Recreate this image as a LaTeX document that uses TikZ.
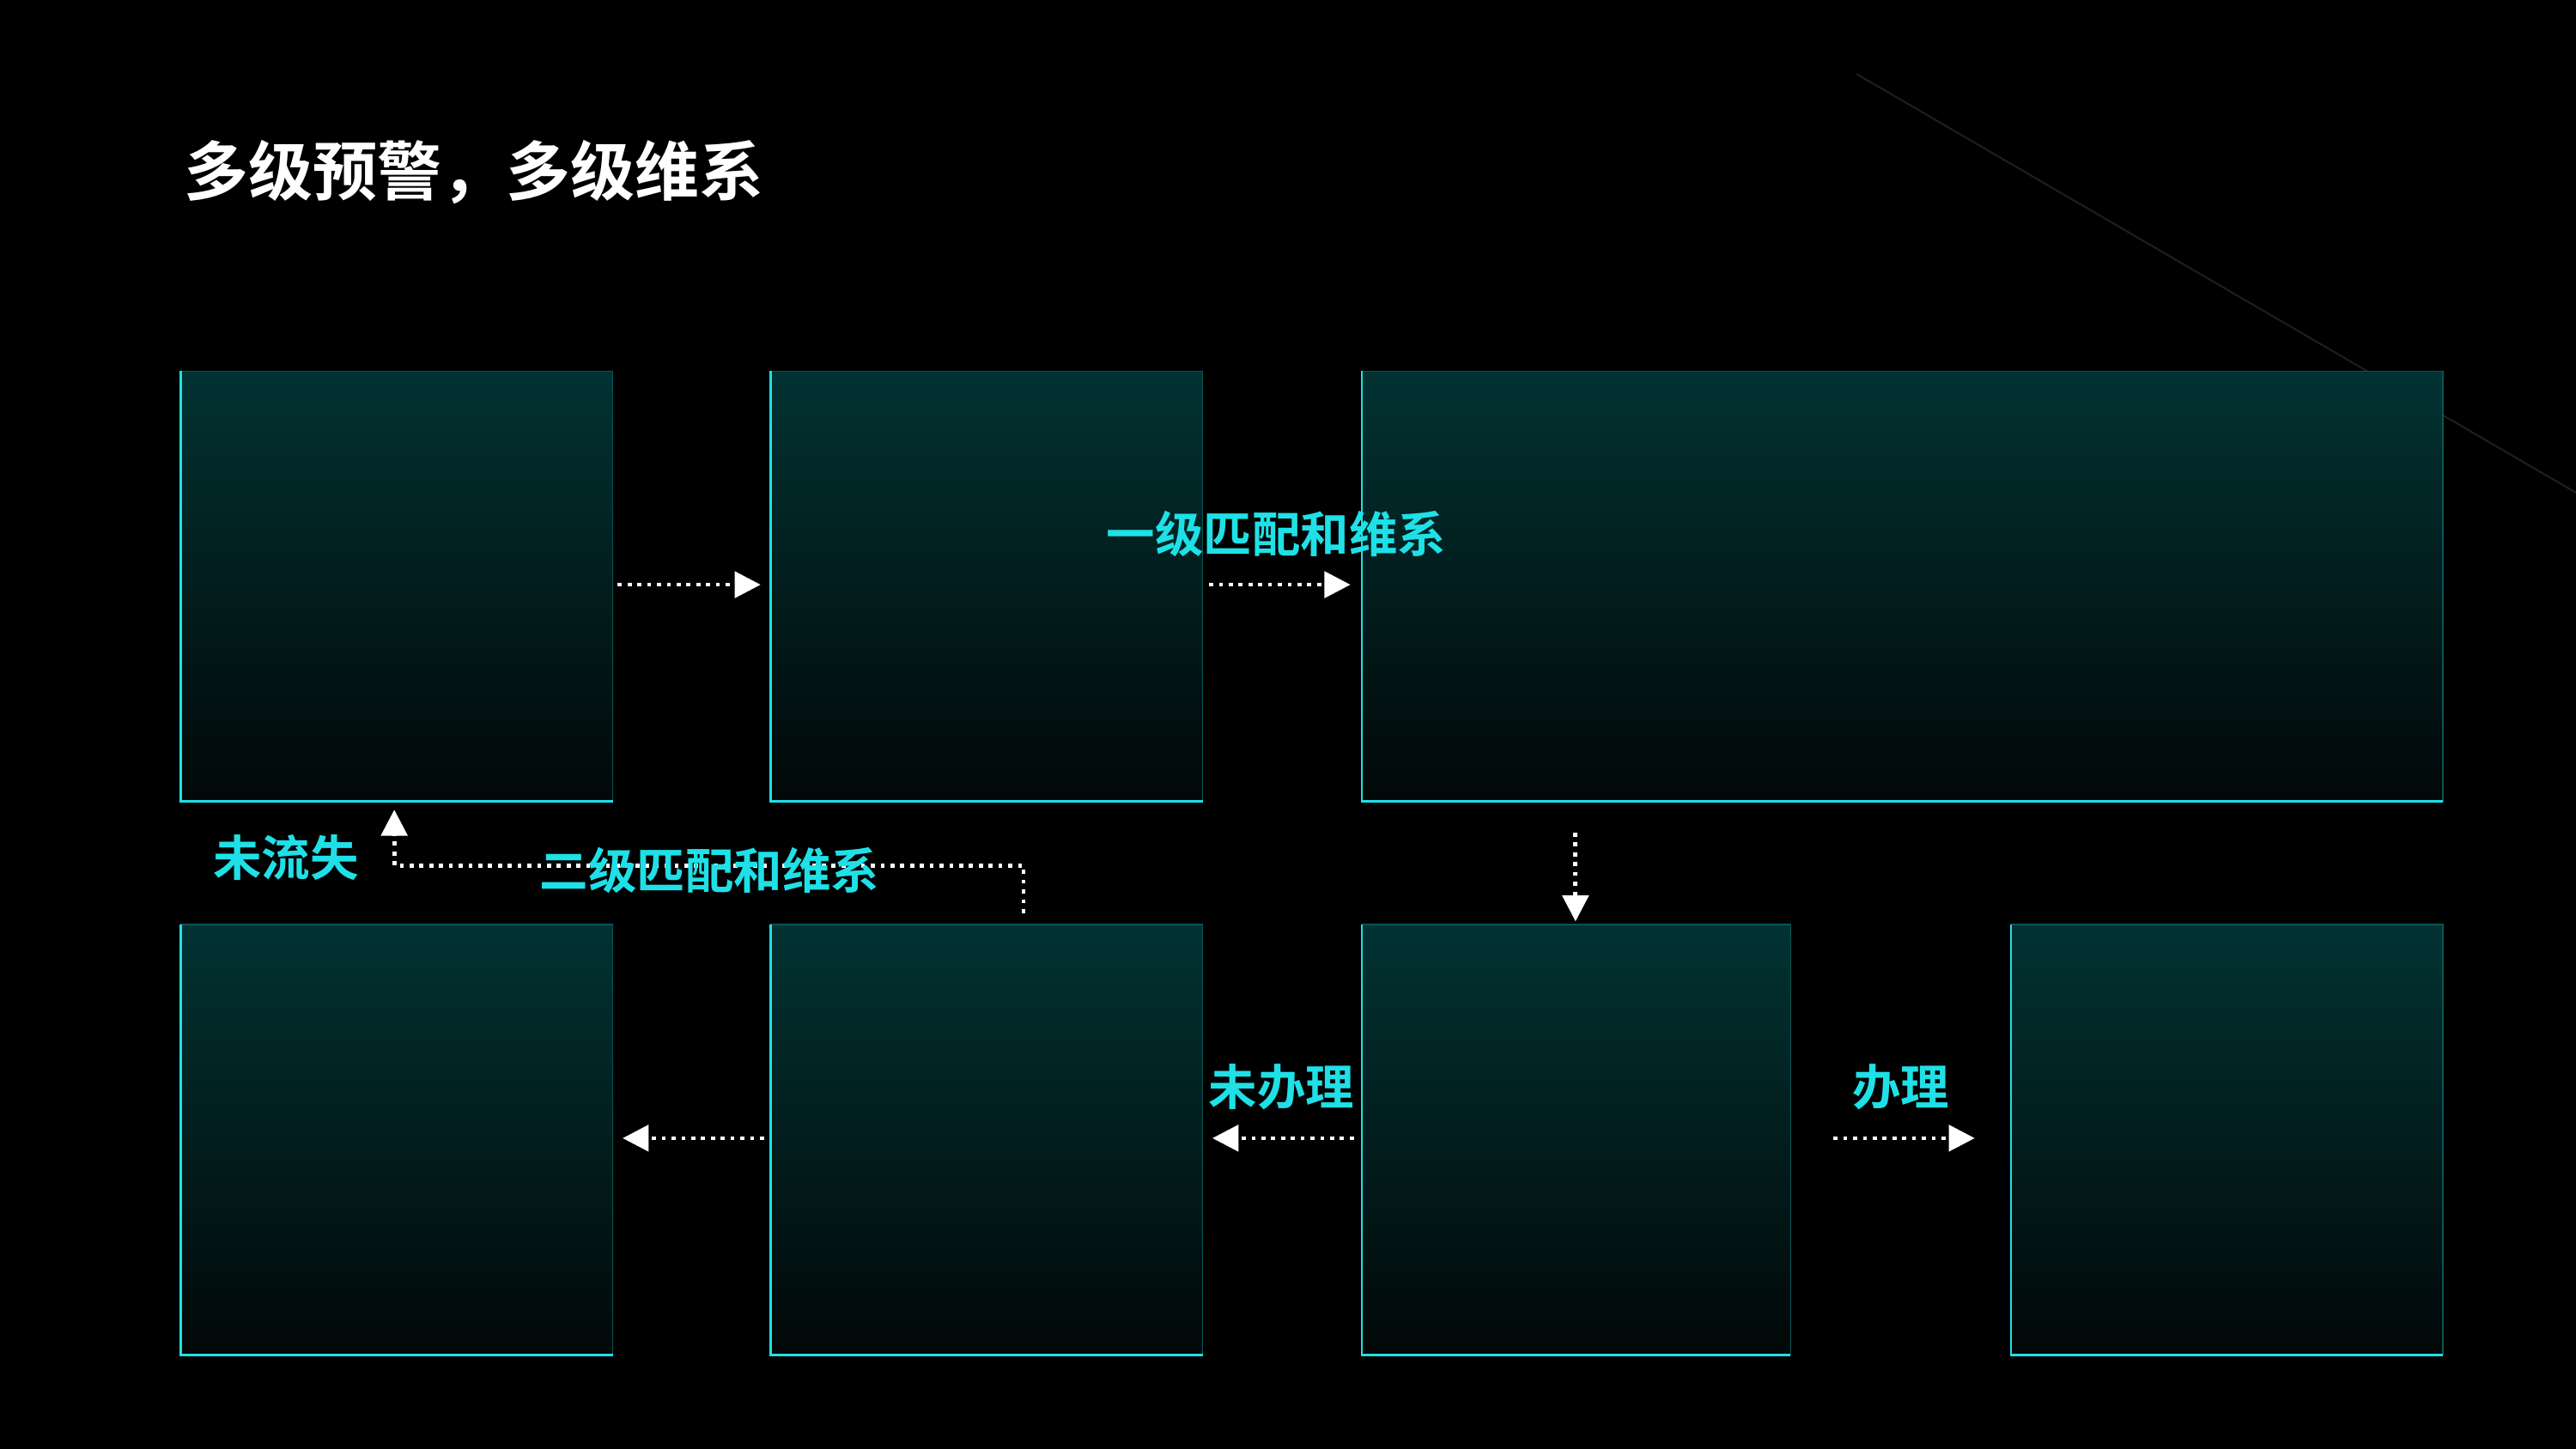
\documentclass[tikz,border=0pt]{standalone}
\usepackage{fontspec}
\newfontfamily\cjk{Noto Sans CJK SC}[BoldFont={Noto Sans CJK SC Bold}]
\usetikzlibrary{arrows.meta}
\definecolor{cy}{HTML}{1FE0E6}
\definecolor{tealtop}{HTML}{023232}
\definecolor{tealbot}{HTML}{020808}
\begin{document}
\begin{tikzpicture}[x=0.02cm,y=-0.02cm,
  panel/.style={draw=none,top color=tealtop,bottom color=tealbot},
  flow/.style={white,dotted,line width=1.4pt,-{Triangle[width=9pt,length=9pt]}},
  lbl/.style={text=cy,font=\cjk\bfseries\fontsize{16.8}{20}\selectfont,inner sep=0pt}]
\fill[black] (0,0) rectangle (1568,882);
\useasboundingbox (0,0) rectangle (1568,882);
\draw[white!12!black,line width=0.6pt] (1130,45) -- (1568,300);
\node[anchor=west,text=white,font=\cjk\bfseries\fontsize{22.3}{26}\selectfont,inner sep=0pt] (title) at (112,105) {多级预警，多级维系};
\foreach \n/\xa/\ya/\xb/\yb in {b1/110/226/373/488,b2/469/226/732/488,b3/829/226/1487/488,b4/110/563/373/825,b5/469/563/732/825,b6/829/563/1090/825,b7/1224/563/1487/825}{
  \shade[panel] (\xa,\ya) rectangle (\xb,\yb);
  \draw[tealtop!80!cy,line width=0.5pt] (\xa,\ya) -- (\xb,\ya) -- (\xb,\yb);
  \draw[cy,line width=0.8pt] (\xa,\ya) -- (\xa,\yb) -- (\xb,\yb);
  \coordinate (\n) at ({(\xa+\xb)/2},{(\ya+\yb)/2});
}
\coordinate (p1) at (376,356); \coordinate (q1) at (463,356);
\coordinate (p2) at (736,356); \coordinate (q2) at (822,356);
\coordinate (p3) at (959,507); \coordinate (q3) at (959,561);
\coordinate (p4) at (824,693); \coordinate (q4) at (738,693);
\coordinate (p5) at (1116,693); \coordinate (q5) at (1202,693);
\coordinate (p6) at (465,693); \coordinate (q6) at (379,693);
\coordinate (p7) at (623,556); \coordinate (q7) at (240,493);
\draw[flow] (p1) -- (q1);
\draw[flow] (p2) -- (q2);
\draw[flow] (p3) -- (q3);
\draw[flow] (p4) -- (q4);
\draw[flow] (p5) -- (q5);
\draw[flow] (p6) -- (q6);
\draw[flow] (p7) |- (q7 |- 0,527) -- (q7);
\node[lbl] (l1) at (777,325) {一级匹配和维系};
\node[lbl] (l2) at (432,530) {二级匹配和维系};
\node[lbl] (l3) at (174,522) {未流失};
\node[lbl] (l4) at (780,662) {未办理};
\node[lbl] (l5) at (1157,662) {办理};
\end{tikzpicture}
\end{document}
